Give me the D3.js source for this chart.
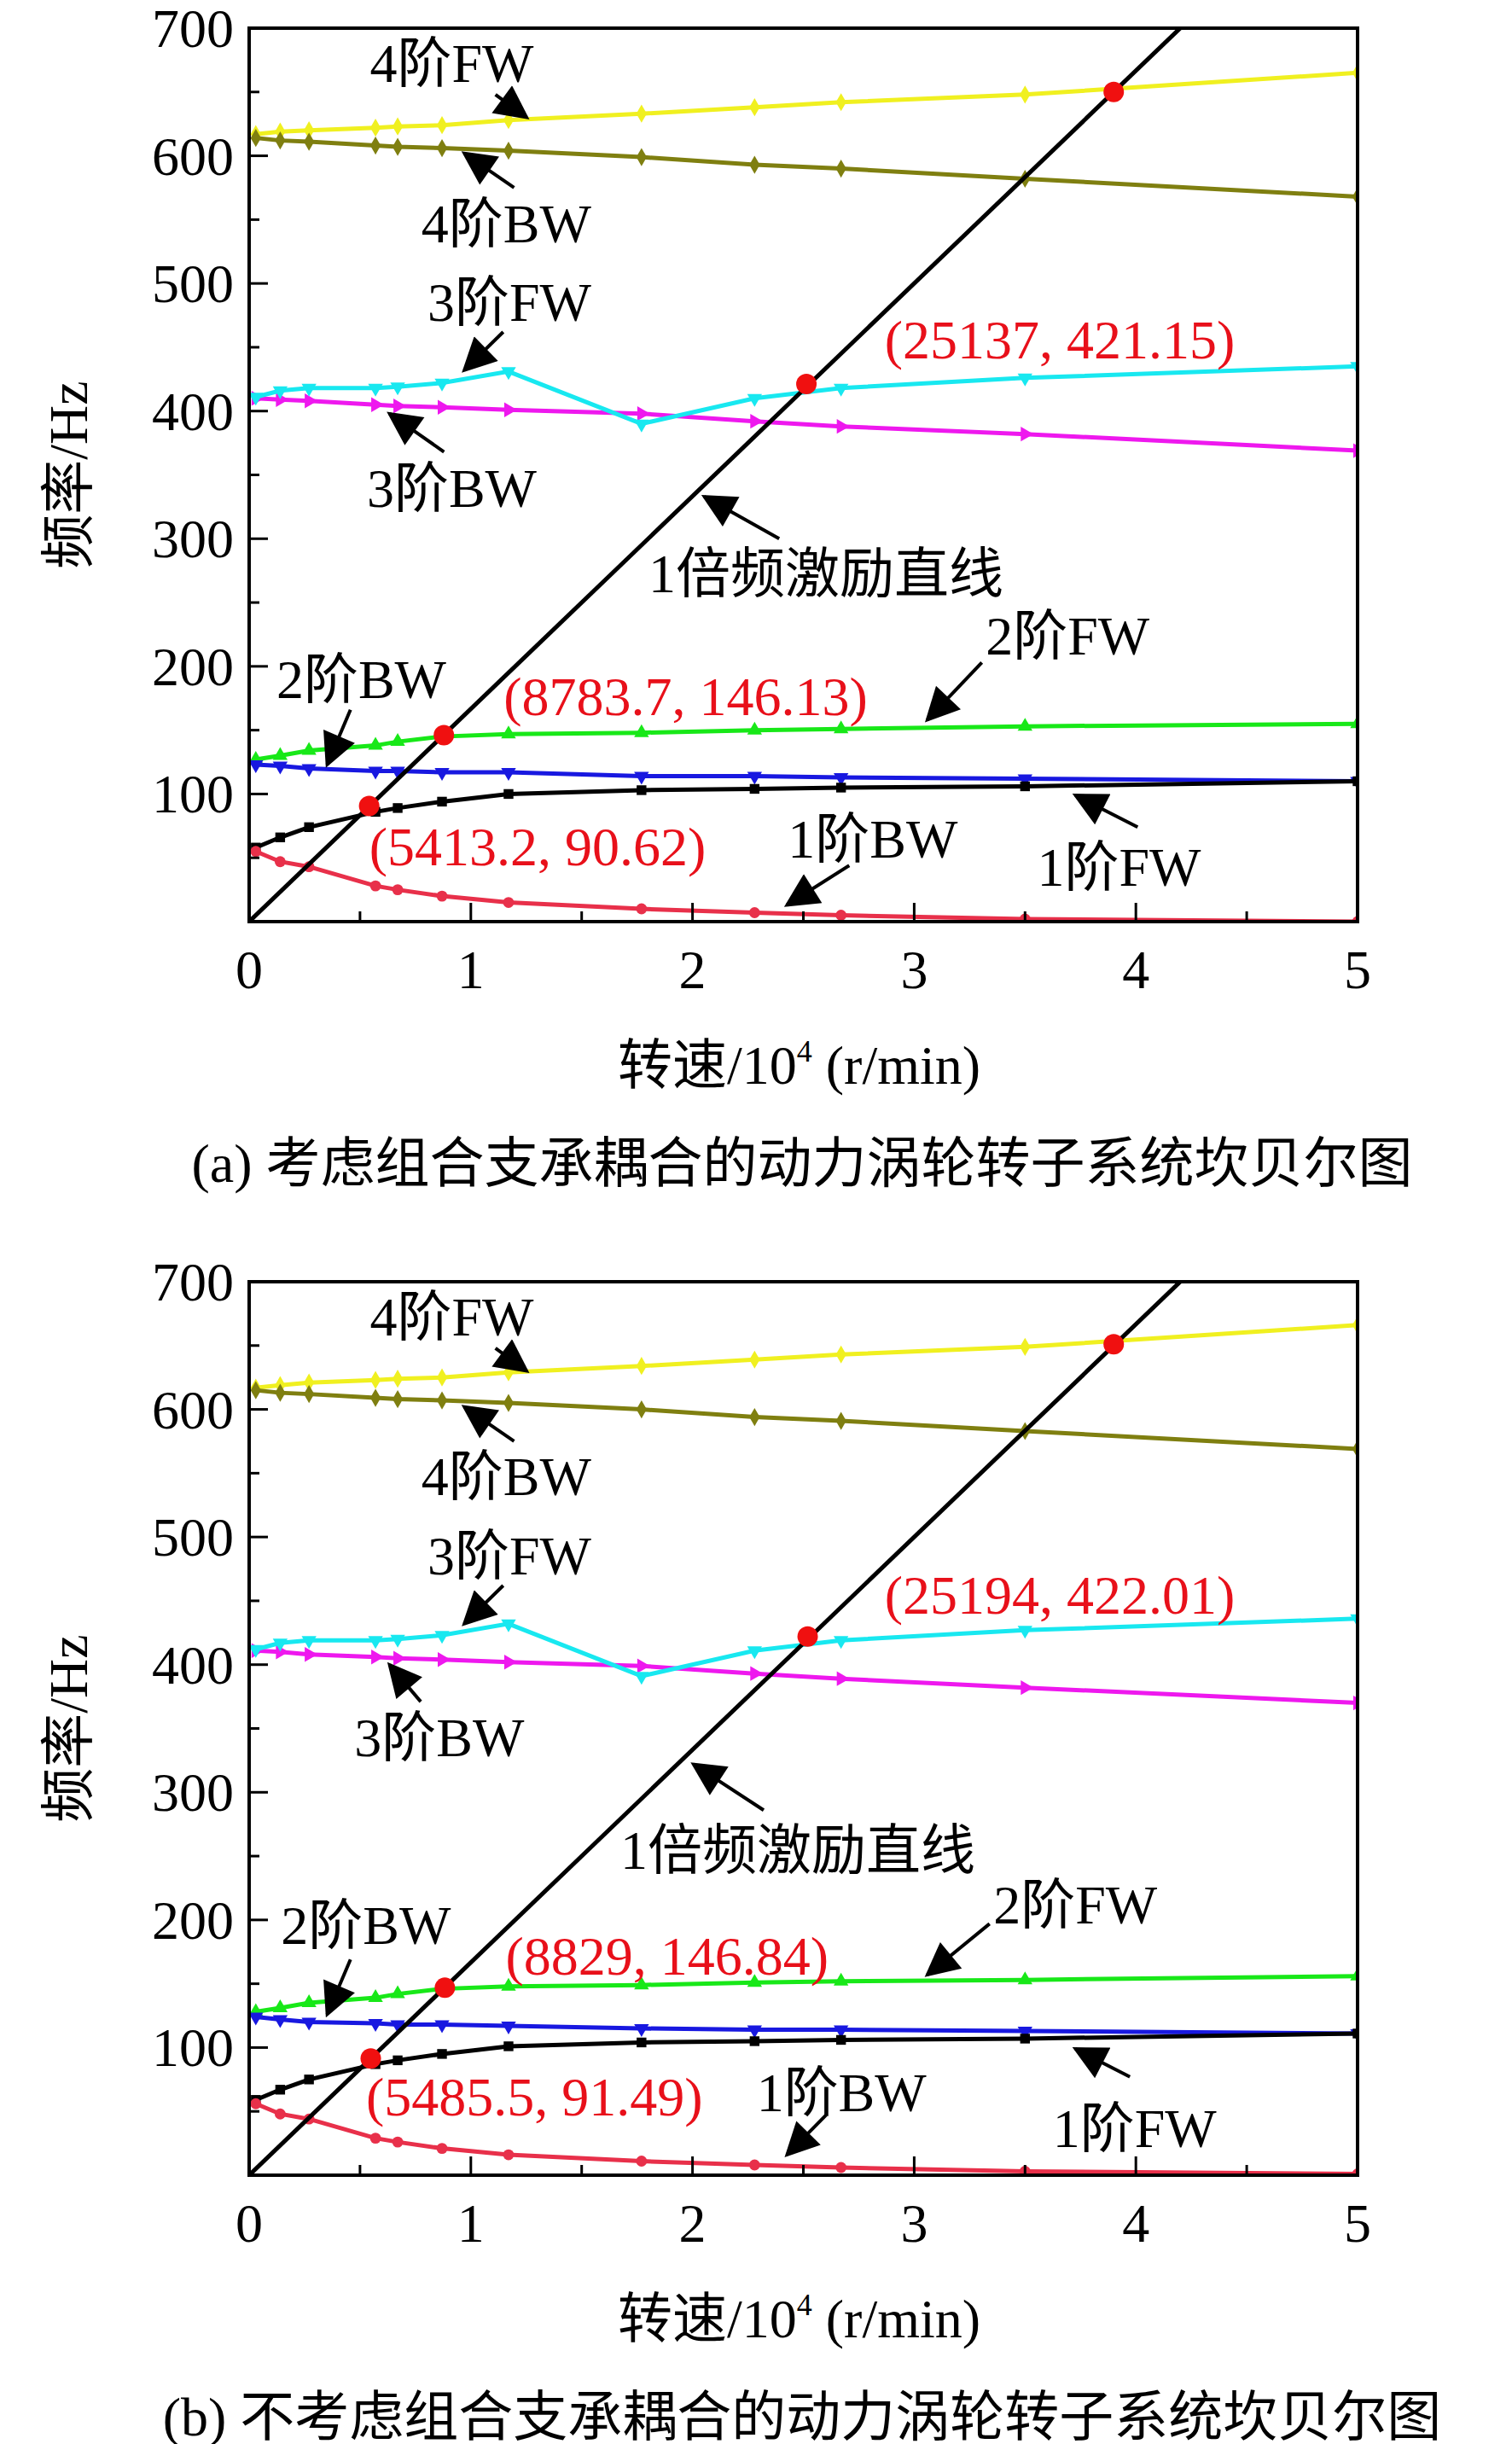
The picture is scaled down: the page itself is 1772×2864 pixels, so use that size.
<!DOCTYPE html>
<html><head><meta charset="utf-8">
<script src="https://cdn.jsdelivr.net/npm/d3@7"></script>
<style>body{margin:0;background:#fff}</style>
</head><body>
<svg id="c" width="1772" height="2864"></svg>
<script>
// speeds in 10^4 r/min
const speeds = [0.03, 0.14, 0.27, 0.57, 0.67, 0.87, 1.17, 1.77, 2.28, 2.67, 3.5, 5.0];

// panel (a)
const a1FW = [58, 66, 74, 86, 89, 94, 100, 103, 104, 105, 106, 110];
const a1BW = [55, 47, 43, 28, 25, 20, 15, 10, 7, 5, 2, 0];
const a2BW = [123, 122, 120, 118, 118, 117, 117, 114, 114, 113, 112, 110];
const a2FW = [127, 130, 134, 138, 141, 145, 147, 148, 150, 151, 153, 155];
const a3BW = [410, 409, 408, 405, 404, 403, 401, 398, 392, 388, 382, 369];
const a3FW = [411, 416, 418, 418, 419, 422, 431, 390, 410, 418, 426, 435];
const a4BW = [614, 612, 611, 608, 607, 606, 604, 599, 593, 590, 582, 568];
const a4FW = [617, 619, 620, 622, 623, 624, 628, 633, 638, 642, 648, 665];
// panel (b)
const b1FW = [59, 67, 75, 87, 90, 95, 101, 104, 105, 106, 107, 111];
const b1BW = [56, 48, 44, 29, 26, 21, 16, 11, 8, 6, 3, 1];
const b2BW = [124, 122, 120, 119, 118, 118, 117, 115, 114, 114, 113, 111];
const b2FW = [128, 131, 135, 139, 142, 146, 148, 149, 151, 152, 153, 156];
const b3BW = [411, 410, 408, 406, 405, 404, 402, 399, 393, 389, 382, 370];
const b3FW = [412, 417, 419, 419, 420, 423, 432, 391, 411, 419, 427, 436];
const b4BW = [615, 613, 612, 609, 608, 607, 605, 600, 594, 591, 583, 569];
const b4FW = [617, 619, 621, 623, 624, 625, 629, 634, 639, 643, 649, 666];

const aCross = [[0.54132, 90.62], [0.87837, 146.13], [2.5137, 421.15], [3.9, 650]];
const bCross = [[0.54855, 91.49], [0.8829, 146.84], [2.5194, 422.01], [3.9, 651]];

const xTicks = [0, 1, 2, 3, 4, 5];
const yTicks = [100, 200, 300, 400, 500, 600, 700];

// [text, x, y(baseline), color, arrow from, arrow to]
const aNotes = [
  ["4阶FW", 0.914, 658, "#000", [1.111, 648], [1.252, 630]],
  ["4阶BW", 1.16, 532, "#000", [1.195, 575], [0.97, 602]],
  ["3阶FW", 1.174, 471, "#000", [1.146, 462], [0.97, 432]],
  ["3阶BW", 0.914, 325, "#000", [0.879, 368], [0.633, 398]],
  ["1倍频激励直线", 2.602, 258, "#000", [2.391, 300], [2.053, 333]],
  ["2阶FW", 3.692, 209, "#000", [3.305, 203], [3.059, 158]],
  ["2阶BW", 0.506, 175, "#000", [0.457, 166], [0.352, 123]],
  ["(8783.7, 146.13)", 1.969, 162, "#e8101a"],
  ["(25137, 421.15)", 3.657, 441, "#e8101a"],
  ["(5413.2, 90.62)", 1.301, 44, "#e8101a"],
  ["1阶BW", 2.813, 50, "#000", [2.707, 44], [2.426, 13]],
  ["1阶FW", 3.924, 28, "#000", [4.008, 74], [3.727, 99]]
];
const bNotes = [
  ["4阶FW", 0.914, 658, "#000", [1.111, 648], [1.252, 630]],
  ["4阶BW", 1.16, 533, "#000", [1.195, 575], [0.97, 602]],
  ["3阶FW", 1.174, 471, "#000", [1.146, 462], [0.97, 432]],
  ["3阶BW", 0.858, 328, "#000", [0.774, 371], [0.633, 400]],
  ["1倍频激励直线", 2.475, 240, "#000", [2.321, 286], [2.004, 322]],
  ["2阶FW", 3.727, 197, "#000", [3.34, 197], [3.059, 157]],
  ["2阶BW", 0.527, 181, "#000", [0.457, 169], [0.352, 126]],
  ["(8829, 146.84)", 1.885, 157, "#e8101a"],
  ["(25194, 422.01)", 3.657, 440, "#e8101a"],
  ["(5485.5, 91.49)", 1.287, 47, "#e8101a"],
  ["1阶BW", 2.672, 50, "#000", [2.602, 47], [2.426, 16]],
  ["1阶FW", 3.994, 22, "#000", [3.973, 77], [3.727, 99]]
];

const FONT = "'Liberation Serif','Times New Roman','Noto Sans CJK SC',serif";
const svg = d3.select("#c");
svg.append("defs").append("marker").attr("id", "ah")
  .attr("viewBox", "0 0 10 10").attr("refX", 9).attr("refY", 5)
  .attr("markerWidth", 44).attr("markerHeight", 40).attr("orient", "auto")
  .attr("markerUnits", "userSpaceOnUse")
  .append("path").attr("d", "M0,0 L10,5 L0,10 z").attr("fill", "#000");

function panel(top, series, cross, notes, caption) {
  const L = 292, R = 1591, T = top, B = top + 1047;
  const x = d3.scaleLinear().domain([0, 5]).range([L, R]);
  const y = d3.scaleLinear().domain([0, 700]).range([B, T]);
  const g = svg.append("g");
  const clip = "cl" + top;
  g.append("clipPath").attr("id", clip).append("rect")
    .attr("x", L).attr("y", T).attr("width", R - L).attr("height", B - T);

  const line = d3.line().x((d, i) => x(speeds[i])).y(d => y(d));
  const pl = g.append("g").attr("clip-path", `url(#${clip})`);
  series.forEach(s => {
    pl.append("path").attr("d", line(s.v)).attr("fill", "none")
      .attr("stroke", s.c).attr("stroke-width", 5);
    s.v.forEach((v, i) => {
      const sym = d3.symbol().type(s.m).size(130);
      pl.append("path").attr("d", sym()).attr("fill", s.c)
        .attr("transform", `translate(${x(speeds[i])},${y(v)}) rotate(${s.r || 0})`);
    });
  });
  // 1x excitation line
  pl.append("line").attr("x1", x(0)).attr("y1", y(0))
    .attr("x2", x(5)).attr("y2", y(5 * 10000 / 60))
    .attr("stroke", "#000").attr("stroke-width", 5);
  cross.forEach(p => pl.append("circle").attr("cx", x(p[0])).attr("cy", y(p[1]))
    .attr("r", 12).attr("fill", "#f01010"));

  // frame and ticks
  g.append("rect").attr("x", L).attr("y", T).attr("width", R - L).attr("height", B - T)
    .attr("fill", "none").attr("stroke", "#000").attr("stroke-width", 4);
  d3.range(0, 5.01, 0.5).forEach(v => {
    const len = Number.isInteger(v) ? 22 : 12;
    g.append("line").attr("x1", x(v)).attr("x2", x(v)).attr("y1", B).attr("y2", B - len)
      .attr("stroke", "#000").attr("stroke-width", 3);
  });
  d3.range(50, 701, 50).forEach(v => {
    const len = v % 100 === 0 ? 22 : 12;
    g.append("line").attr("x1", L).attr("x2", L + len).attr("y1", y(v)).attr("y2", y(v))
      .attr("stroke", "#000").attr("stroke-width", 3);
  });
  xTicks.forEach(v => g.append("text").attr("x", x(v)).attr("y", B + 78)
    .attr("text-anchor", "middle").attr("font-size", 64).attr("font-family", FONT).text(v));
  yTicks.forEach(v => g.append("text").attr("x", L - 18).attr("y", y(v) + 22)
    .attr("text-anchor", "end").attr("font-size", 64).attr("font-family", FONT).text(v));

  const xt = g.append("text").attr("x", (L + R) / 2 - 5).attr("y", B + 190)
    .attr("text-anchor", "middle").attr("font-size", 64).attr("font-family", FONT);
  xt.append("tspan").text("转速/10");
  xt.append("tspan").attr("font-size", 36).attr("dy", -26).text("4");
  xt.append("tspan").attr("dy", 26).text(" (r/min)");
  g.append("text").attr("transform", `translate(102,${(T + B) / 2}) rotate(-90)`)
    .attr("text-anchor", "middle").attr("font-size", 64).attr("font-family", FONT).text("频率/Hz");
  g.append("text").attr("x", 940).attr("y", B + 305).attr("text-anchor", "middle")
    .attr("font-size", 64).attr("font-family", FONT).text(caption);

  notes.forEach(n => {
    g.append("text").attr("x", x(n[1])).attr("y", y(n[2])).attr("text-anchor", "middle")
      .attr("font-size", 64).attr("font-family", FONT).attr("fill", n[3]).text(n[0]);
    if (n[4]) g.append("line").attr("x1", x(n[4][0])).attr("y1", y(n[4][1]))
      .attr("x2", x(n[5][0])).attr("y2", y(n[5][1]))
      .attr("stroke", "#000").attr("stroke-width", 4).attr("marker-end", "url(#ah)");
  });
}

function mk(p1FW, p1BW, p2BW, p2FW, p3BW, p3FW, p4BW, p4FW) {
  return [
    {v: p4FW, c: "#f0f020", m: d3.symbolDiamond},
    {v: p4BW, c: "#7f7f10", m: d3.symbolDiamond},
    {v: p3BW, c: "#ee18ee", m: d3.symbolTriangle, r: 90},
    {v: p3FW, c: "#18e8f0", m: d3.symbolTriangle, r: 180},
    {v: p2FW, c: "#18e818", m: d3.symbolTriangle},
    {v: p2BW, c: "#1818e0", m: d3.symbolTriangle, r: 180},
    {v: p1FW, c: "#000", m: d3.symbolSquare},
    {v: p1BW, c: "#e8304a", m: d3.symbolCircle}
  ];
}

panel(33, mk(a1FW, a1BW, a2BW, a2FW, a3BW, a3FW, a4BW, a4FW), aCross, aNotes,
  "(a) 考虑组合支承耦合的动力涡轮转子系统坎贝尔图");
panel(1502, mk(b1FW, b1BW, b2BW, b2FW, b3BW, b3FW, b4BW, b4FW), bCross, bNotes,
  "(b) 不考虑组合支承耦合的动力涡轮转子系统坎贝尔图");
</script>
</body></html>
